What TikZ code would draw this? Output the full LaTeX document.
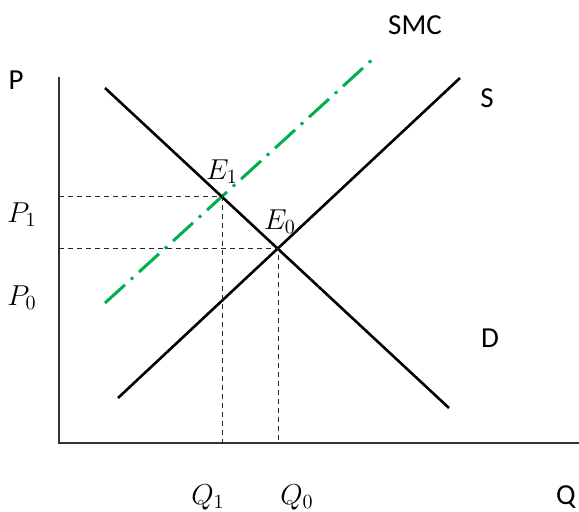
\documentclass[tikz,border=0pt]{standalone}
\usepackage{fontspec}
\setmainfont{Carlito}
\usetikzlibrary{arrows.meta}

\begin{document}
\begin{tikzpicture}[x=0.5pt,y=-0.5pt,font=\fontsize{14.5}{17}\selectfont]
  \tikzset{curve/.style={line width=1.3pt,black},
           guide/.style={dash pattern=on 2.5pt off 2pt,line width=0.5pt,black!85},
           smc/.style={line width=1.5pt,color={rgb,255:red,0;green,176;blue,80},
                       dash pattern=on 13.5pt off 4pt on 1.5pt off 4pt}}
  \useasboundingbox (0,0) rectangle (579,512);
  % axes
  \coordinate (O) at (59,443);
  \coordinate (ytop) at (59,77);
  \coordinate (xend) at (579,443);
  \draw[line width=1pt,black!80] (ytop) -- (O) -- (xend);
  \node (lblP) at (16,80) {P};
  \node (lblQ) at (566,497) {Q};
  % curves
  \coordinate (D0) at (105,88);   \coordinate (D1) at (449,408);
  \coordinate (S0) at (118,398);  \coordinate (S1) at (460,78);
  \coordinate (M0) at (105,303);  \coordinate (M1) at (374,58);
  \coordinate (E0) at (278,249);  \coordinate (E1) at (222,197);
  \draw[smc] (M0) -- (M1);
  \draw[curve] (D0) -- (D1);
  \draw[curve] (S0) -- (S1);
  \node (lblSMC) at (415,25) {SMC};
  \node (lblS) at (487,98) {S};
  \node (lblD) at (490,338) {D};
  % equilibria
  \coordinate (p1) at (59,197);  \coordinate (q1) at (222,443);
  \coordinate (p0) at (59,249);  \coordinate (q0) at (278,443);
  \draw[guide] (p1) -- (E1) -- (q1);
  \draw[guide] (p0) -- (E0) -- (q0);
  \node (lblE1) at (222,172) {$E_1$};
  \node (lblE0) at (280,222) {$E_0$};
  \node (lblP1) at (22,215) {$P_1$};
  \node (lblP0) at (22,298) {$P_0$};
  \node (lblQ1) at (208,497) {$Q_1$};
  \node (lblQ0) at (297,497) {$Q_0$};
\end{tikzpicture}
\end{document}
